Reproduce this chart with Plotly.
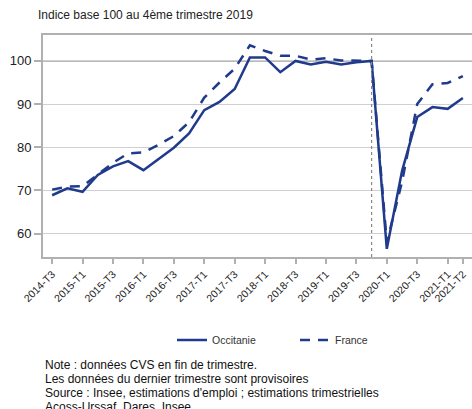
import plotly.graph_objects as go

quarters = ["2014-T3", "2014-T4", "2015-T1", "2015-T2", "2015-T3", "2015-T4",
            "2016-T1", "2016-T2", "2016-T3", "2016-T4", "2017-T1", "2017-T2",
            "2017-T3", "2017-T4", "2018-T1", "2018-T2", "2018-T3", "2018-T4",
            "2019-T1", "2019-T2", "2019-T3", "2019-T4", "2020-T1", "2020-T2",
            "2020-T3", "2020-T4", "2021-T1", "2021-T2"]
occitanie = [68.9, 70.5, 69.7, 73.6, 75.6, 76.8, 74.7, 77.2, 79.9, 83.2,
             88.6, 90.5, 93.5, 100.8, 100.8, 97.4, 100.0, 99.2, 99.8, 99.2,
             99.7, 100.0, 56.5, 74.5, 87.0, 89.3, 88.9, 91.4]
france = [70.2, 70.9, 71.0, 73.8, 76.4, 78.6, 78.8, 80.6, 82.6, 85.8,
          91.5, 95.0, 98.2, 103.6, 102.3, 101.2, 101.2, 100.3, 100.6, 100.1,
          100.1, 100.0, 58.0, 72.0, 90.0, 94.6, 94.9, 96.5]
tick_labels = ["2014-T3", "2015-T1", "2015-T3", "2016-T1", "2016-T3", "2017-T1",
               "2017-T3", "2018-T1", "2018-T3", "2019-T1", "2019-T3", "2020-T1",
               "2020-T3", "2021-T1", "2021-T2"]
y_ticks = [60, 70, 80, 90, 100]
title_text = "Indice base 100 au 4ème trimestre 2019"
notes = ["Note : données CVS en fin de trimestre.",
         "Les données du dernier trimestre sont provisoires",
         "Source : Insee, estimations d'emploi ; estimations trimestrielles",
         "Acoss-Urssaf, Dares, Insee"]

BLUE = "#203a8c"
FONT = "Liberation Sans, Arial, sans-serif"

W, H = 472, 409
L, R, T, B = 43, 0, 35, 152
ph = H - T - B
pw = W - L - R

fig = go.Figure()
fig.add_trace(go.Scatter(x=quarters, y=occitanie, name="Occitanie", mode="lines",
                         line=dict(color=BLUE, width=2.5)))
fig.add_trace(go.Scatter(x=quarters, y=france, name="France", mode="lines",
                         line=dict(color=BLUE, width=2.5, dash="10px,8px")))

fig.add_hline(y=100, line=dict(color="#555555", width=1), layer="below")
fig.add_vline(x="2019-T4", line=dict(color="#888888", width=1.2, dash="dot"))

def py(px):
    return (H - B - px) / ph

def px_x(px):
    return (px - L) / pw

fig.add_annotation(text=title_text, xref="paper", yref="paper",
                   x=px_x(36), y=py(15), xanchor="left", yanchor="middle",
                   showarrow=False, font=dict(size=12, color="#222222", family=FONT))
for i, n in enumerate(notes):
    fig.add_annotation(text=n, xref="paper", yref="paper",
                       x=px_x(43), y=py(365 + 14 * i), xanchor="left", yanchor="middle",
                       showarrow=False, font=dict(size=12, color="#111111", family=FONT))

fig.update_layout(
    width=W, height=H,
    margin=dict(l=L, r=R, t=T, b=B, autoexpand=False),
    paper_bgcolor="white", plot_bgcolor="white",
    font=dict(family=FONT, color="#222222"),
    showlegend=True,
    legend=dict(orientation="h", x=px_x(172), y=py(340), xanchor="left", yanchor="middle",
                font=dict(size=10.5, color="#333333"), entrywidth=78, bgcolor="rgba(0,0,0,0)"),
    xaxis=dict(type="category", range=[-0.6, 27.6], tickmode="array",
               tickvals=tick_labels, ticktext=tick_labels, tickangle=-45,
               showgrid=False, showline=True, linecolor="#b0b0b0", linewidth=2,
               mirror=True, ticks="outside", ticklen=5, tickwidth=2, tickcolor="#b0b0b0",
               tickfont=dict(size=10.5, color="#222222"), zeroline=False, automargin=False),
    yaxis=dict(range=[54.6, 106], tickvals=y_ticks, showgrid=True, gridcolor="#d0d0d0",
               gridwidth=1, showline=True, linecolor="#b0b0b0", linewidth=2,
               ticks="outside", ticklen=7, tickwidth=2, tickcolor="#b0b0b0",
               tickfont=dict(size=13, color="#222222"), zeroline=False, automargin=False),
)

fig.write_html("out.html", config={"displayModeBar": False},
               post_script="document.body.style.margin='0';document.body.style.padding='0';")
